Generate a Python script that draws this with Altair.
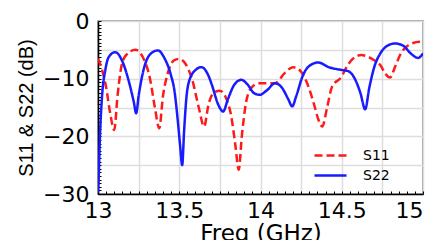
import altair as alt
import pandas as pd

s11_f = [13.000, 13.020, 13.050, 13.075, 13.100, 13.120, 13.140, 13.170, 13.230, 13.280,
         13.320, 13.350, 13.377, 13.400, 13.430, 13.470, 13.500, 13.540, 13.580, 13.620,
         13.653, 13.680, 13.710, 13.750, 13.790, 13.820, 13.845, 13.866, 13.885, 13.910,
         13.940, 13.990, 14.090, 14.150, 14.200, 14.250, 14.290, 14.330, 14.355, 14.380,
         14.410, 14.440, 14.500, 14.520, 14.560, 14.620, 14.660, 14.700, 14.736, 14.770,
         14.797, 14.830, 14.859, 14.910, 14.980, 15.000]
s11_db = [-6.5, -8.0, -11.5, -16.0, -18.9, -13.0, -8.5, -6.0, -5.0, -6.5,
          -10.0, -15.0, -18.6, -13.0, -9.0, -6.8, -6.6, -7.5, -10.2, -15.0,
          -18.3, -14.5, -12.5, -12.1, -13.5, -16.5, -21.5, -25.8, -20.0, -14.3,
          -11.7, -10.8, -10.8, -9.0, -8.0, -8.8, -11.0, -14.5, -17.0, -18.3,
          -15.0, -11.4, -9.6, -8.5, -6.8, -5.9, -6.2, -6.8, -7.6, -9.2,
          -9.8, -7.8, -5.9, -4.2, -3.6, -3.7]

s22_f = [13.000, 13.003, 13.012, 13.025, 13.045, 13.065, 13.106, 13.150, 13.190, 13.220,
         13.235, 13.250, 13.280, 13.320, 13.368, 13.410, 13.450, 13.470, 13.490, 13.505,
         13.518, 13.530, 13.545, 13.560, 13.600, 13.636, 13.680, 13.700, 13.740, 13.770,
         13.800, 13.840, 13.882, 13.920, 13.960, 13.995, 14.040, 14.090, 14.130, 14.170,
         14.195, 14.220, 14.260, 14.300, 14.355, 14.420, 14.500, 14.540, 14.580, 14.615,
         14.644, 14.670, 14.700, 14.740, 14.780, 14.828, 14.880, 14.920, 14.970, 15.000]
s22_db = [-29.8, -28.0, -20.0, -13.0, -8.5, -6.3, -5.4, -7.0, -10.5, -14.0,
          -16.0, -13.0, -8.5, -5.8, -5.1, -6.5, -9.5, -12.0, -17.0, -21.5,
          -25.0, -19.0, -13.0, -10.5, -8.5, -8.0, -9.5, -11.0, -14.5, -15.7,
          -13.5, -11.0, -10.2, -11.0, -12.5, -12.8, -12.0, -10.8, -11.5, -13.5,
          -14.8, -13.0, -9.5, -7.8, -7.2, -8.0, -8.5, -8.7, -10.0, -12.5,
          -15.3, -11.5, -8.0, -5.5, -4.3, -3.9, -4.3, -5.5, -6.4, -5.6]

series = ["S11", "S22"]
colors = ["#ff1a1a", "#1a1aff"]

x_grid = [13.0 + 0.25 * i for i in range(9)]
x_minor = [round(13.0 + 0.05 * i, 2) for i in range(41)]
y_grid = [-30, -25, -20, -15, -10, -5, 0]
y_minor = [-30 + 0.625 * i for i in range(49)]

df = pd.concat([
    pd.DataFrame({"f": s11_f, "db": s11_db, "s": "S11"}),
    pd.DataFrame({"f": s22_f, "db": s22_db, "s": "S22"}),
])

FONT = "DejaVu Sans"

xs = alt.Scale(domain=[13, 15], nice=False, zero=False)
ys = alt.Scale(domain=[-30, 0], nice=False, zero=False)

color = alt.Color("s:N", scale=alt.Scale(domain=series, range=colors),
                  legend=alt.Legend(orient="none", legendX=223, legendY=125, title=None,
                                    symbolType="M-2,0H2", symbolSize=256,
                                    symbolStrokeWidth=2.5, labelFontSize=14,
                                    labelFont=FONT, labelColor="black", padding=0,
                                    rowPadding=3, labelOffset=23))
dash = alt.StrokeDash("s:N", scale=alt.Scale(domain=series, range=[[8, 4], [1, 0]]),
                      legend=None)

main = alt.Chart(df).mark_line(strokeWidth=2.5, interpolate="monotone", clip=True).encode(
    x=alt.X("f:Q", scale=xs,
            axis=alt.Axis(orient="bottom", values=x_grid,
                          labelExpr="indexof([13,13.5,14,14.5,15], datum.value) >= 0 ? '' + datum.value : ''",
                          labelAlign={"condition": {"test": "datum.value == 15", "value": "right"},
                                      "value": "center"},
                          title="Freq (GHz)", titleFont=FONT, titleFontSize=23,
                          titleFontWeight="normal", titleColor="black", titlePadding=1,
                          labelFont=FONT, labelFontSize=22, labelColor="black",
                          labelPadding=6, ticks=False, domainColor="black",
                          domainWidth=1.5, grid=True, gridColor="#dddddd", gridWidth=1.5,
                          labelFlush=False, labelOverlap=False)),
    y=alt.Y("db:Q", scale=ys,
            axis=alt.Axis(orient="left", values=y_grid,
                          labelExpr="datum.value % 10 == 0 ? datum.label : ''",
                          title="S11 & S22 (dB)", titleFont="Liberation Sans", titleFontSize=20,
                          titleFontWeight="normal", titleColor="black", titlePadding=6,
                          labelFont=FONT, labelFontSize=22, labelColor="black",
                          labelPadding=9, ticks=False, domainColor="black",
                          domainWidth=1.5, grid=True, gridColor="#dddddd", gridWidth=1.5,
                          labelFlush=False, labelOverlap=False)),
    color=color,
    strokeDash=dash,
)

minor = alt.Chart(df).mark_line(opacity=0).encode(
    x=alt.X("f:Q", scale=xs,
            axis=alt.Axis(orient="bottom", values=x_minor, labels=False, title=None,
                          grid=False, domain=False, tickSize=3, tickColor="black",
                          tickWidth=1, offset=-3)),
    y=alt.Y("db:Q", scale=ys,
            axis=alt.Axis(orient="left", values=y_minor, labels=False, title=None,
                          grid=False, domain=False, tickSize=3, tickColor="black",
                          tickWidth=1, offset=-3)),
)

chart = alt.layer(main, minor).resolve_axis(x="independent", y="independent").properties(
    width=325, height=173,
    autosize=alt.AutoSizeParams(type="none"),
    padding={"left": 90, "top": 13, "right": 2, "bottom": 46},
).configure_view(stroke="#888888", strokeWidth=1.5)

chart.save("out.html", embed_options={"renderer": "svg", "actions": False})
